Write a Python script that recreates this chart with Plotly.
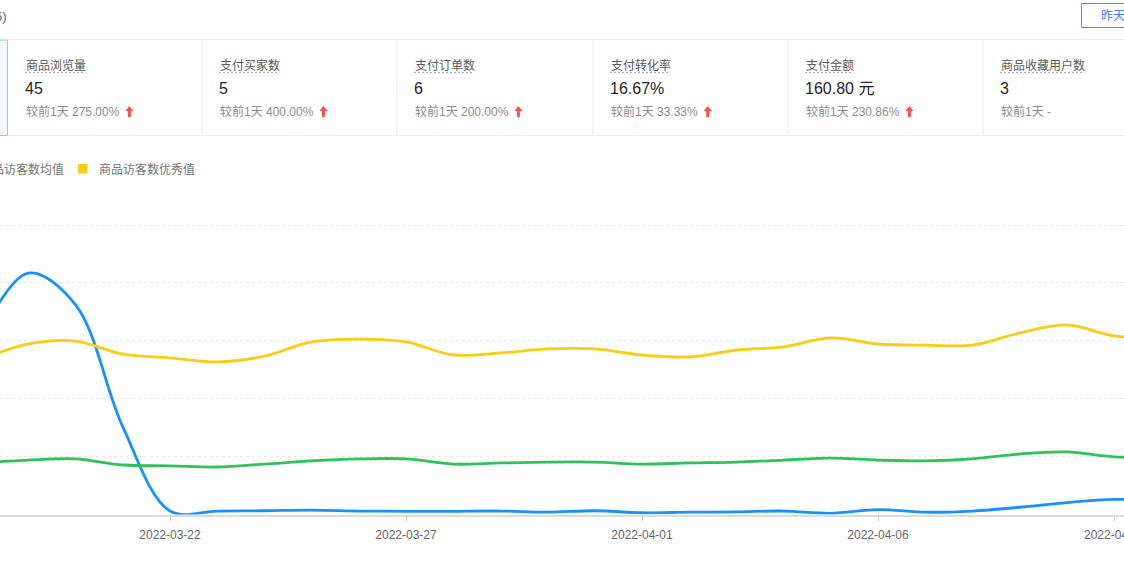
import pandas as pd
import plotly.graph_objects as go

W, H = 1124, 562

# ---------------- data ----------------
dates = pd.date_range("2022-03-18", "2022-04-12", freq="D")

visitors = [62, 83.4, 72.4, 30.3, 1.2, 1.2, 1.3, 1.5, 1.2, 1.1, 1.1, 1.2, 0.8, 1.3,
            0.6, 0.8, 0.9, 1.2, 0.4, 1.7, 0.8, 1.2, 2.5, 4.1, 5.2, 4.8]
visitors_avg = [17.8, 18.8, 19.2, 17.1, 16.8, 16.4, 17.4, 18.5, 19.2, 19.2, 17.4, 17.8, 18.1, 18.1,
                17.4, 17.8, 18.1, 18.8, 19.5, 18.8, 18.5, 19.2, 20.9, 21.6, 19.9, 19.9]
visitors_best = [53.4, 58.9, 59.9, 55.4, 54.1, 52.7, 54.7, 59.6, 60.6, 59.6, 55.1, 55.8, 57.2, 57.2,
                 55.1, 54.4, 56.8, 57.9, 61.0, 58.9, 58.5, 58.5, 62.7, 65.5, 61.7, 61.0]

series_names = ["商品访客数", "商品访客数均值", "商品访客数优秀值"]
series_colors = ["#1890ff", "#2fc25b", "#facc14"]

card_titles = ["商品浏览量", "支付买家数", "支付订单数", "支付转化率", "支付金额", "商品收藏用户数"]
card_values = ["45", "5", "6", "16.67%", "160.80 元", "3"]
card_changes = ["275.00%", "400.00%", "200.00%", "33.33%", "230.86%", "-"]
card_up = [True, True, True, True, True, False]

header_text = "5)"
button_text = "昨天"
compare_label = "较前1天"
last_tick = "2022-04-11"

FONT = "Liberation Sans, Arial, 'Noto Sans CJK SC', sans-serif"


def px(x):
    return x / W


def py(y):
    return 1 - y / H


def text_w(s, size=12):
    w = 0
    for ch in s:
        if ord(ch) > 0x2E80:
            w += size
        elif ch.isdigit():
            w += 0.556 * size
        elif ch == "%":
            w += 0.889 * size
        elif ch in ". ":
            w += 0.278 * size
        elif ch == "-":
            w += 0.333 * size
        else:
            w += 0.556 * size
    return w


fig = go.Figure()
for name, vals, col in zip(series_names, [visitors, visitors_avg, visitors_best], series_colors):
    fig.add_trace(go.Scatter(
        x=dates, y=vals, mode="lines", name=name,
        line=dict(color=col, width=2.8, shape="spline", smoothing=1.0),
        showlegend=False, hoverinfo="skip"))

shapes = []
annotations = []

# header
annotations.append(dict(x=px(9), y=py(16), xref="paper", yref="paper", text=header_text,
                        xanchor="right", yanchor="middle", showarrow=False,
                        font=dict(size=13, color="#666", family=FONT)))
shapes.append(dict(type="rect", xref="paper", yref="paper", x0=px(1081.5), x1=px(1140),
                   y0=py(3.5), y1=py(27.5), line=dict(color="#4d8ef7", width=1), fillcolor="white"))
annotations.append(dict(x=px(1099), y=py(16), xref="paper", yref="paper", text=button_text,
                        xanchor="left", yanchor="middle", showarrow=False,
                        font=dict(size=12, color="#3d7ff0", family=FONT)))

# cards row
card_x = [8, 202, 397, 593, 788, 983]
shapes.append(dict(type="rect", xref="paper", yref="paper", x0=px(-10), x1=px(7.5),
                   y0=py(40), y1=py(135.5), line=dict(color="#9cc3f5", width=1), fillcolor="#f2f7ff"))
shapes.append(dict(type="line", xref="paper", yref="paper", x0=px(8), x1=1,
                   y0=py(39.5), y1=py(39.5), line=dict(color="#ebebeb", width=1)))
shapes.append(dict(type="line", xref="paper", yref="paper", x0=px(8), x1=1,
                   y0=py(135.5), y1=py(135.5), line=dict(color="#ebebeb", width=1)))
for cx in card_x[1:]:
    shapes.append(dict(type="line", xref="paper", yref="paper", x0=px(cx), x1=px(cx),
                       y0=py(40), y1=py(135), line=dict(color="#ebebeb", width=1)))

for i, (t, v, c, up) in enumerate(zip(card_titles, card_values, card_changes, card_up)):
    x0 = card_x[i] + 17
    annotations.append(dict(x=px(x0 - 1.5), y=py(65), xref="paper", yref="paper", text=t,
                            xanchor="left", yanchor="middle", showarrow=False,
                            font=dict(size=12, color="#595959", family=FONT)))
    shapes.append(dict(type="line", xref="paper", yref="paper", x0=px(x0), x1=px(x0 + 12 * len(t)),
                       y0=py(72.5), y1=py(72.5), line=dict(color="#aaaaaa", width=1, dash="2px,2px")))
    annotations.append(dict(x=px(x0 - 2), y=py(88.5), xref="paper", yref="paper", text=v,
                            xanchor="left", yanchor="middle", showarrow=False,
                            font=dict(size=16, color="#262626", family=FONT)))
    ctext = compare_label + " " + c
    annotations.append(dict(x=px(x0 - 1.5), y=py(111.5), xref="paper", yref="paper", text=ctext,
                            xanchor="left", yanchor="middle", showarrow=False,
                            font=dict(size=12, color="#8c8c8c", family=FONT)))
    if up:
        ax = x0 + text_w(ctext) + 11
        path = (f"M {px(ax)},{py(106)} L {px(ax + 4)},{py(111)} L {px(ax + 1.5)},{py(111)} "
                f"L {px(ax + 1.5)},{py(117)} L {px(ax - 1.5)},{py(117)} L {px(ax - 1.5)},{py(111)} "
                f"L {px(ax - 4)},{py(111)} Z")
        shapes.append(dict(type="path", xref="paper", yref="paper", path=path,
                           fillcolor="#ff4d4f", line=dict(width=0)))

# legend (partially cropped)
annotations.append(dict(x=px(66), y=py(169), xref="paper", yref="paper", text=series_names[1],
                        xanchor="right", yanchor="middle", showarrow=False,
                        font=dict(size=12, color="#737373", family=FONT)))
shapes.append(dict(type="rect", xref="paper", yref="paper", x0=px(78), x1=px(87.5),
                   y0=py(164), y1=py(173.5), line=dict(width=0), fillcolor=series_colors[2]))
annotations.append(dict(x=px(96.5), y=py(169), xref="paper", yref="paper", text=series_names[2],
                        xanchor="left", yanchor="middle", showarrow=False,
                        font=dict(size=12, color="#737373", family=FONT)))

# axes geometry
ref_day = pd.Timestamp("2022-03-22")
ppd = 47.2
x_start = ref_day - pd.Timedelta(days=170 / ppd)
x_end = ref_day + pd.Timedelta(days=(W - 170) / ppd)
y_bottom, y_top = 514.5, 212.0
y_max = 100 * (y_bottom - y_top) / (y_bottom - 225.0)

# cropped last tick label (plotly hides labels overflowing the edge)
annotations.append(dict(x=pd.Timestamp(last_tick), y=py(534.5), xref="x", yref="paper", text=last_tick,
                        xanchor="center", yanchor="middle", showarrow=False,
                        font=dict(size=12, color="#666666", family=FONT)))

fig.update_layout(
    width=W, height=H,
    margin=dict(l=0, r=0, t=0, b=0),
    paper_bgcolor="white", plot_bgcolor="white",
    shapes=shapes, annotations=annotations,
    font=dict(family=FONT),
    xaxis=dict(
        type="date", range=[x_start, x_end], domain=[0, 1],
        tick0="2022-03-22", dtick=5 * 86400000, tickformat="%Y-%m-%d",
        showgrid=False, zeroline=False,
        showline=True, linecolor="#dcdcdc", linewidth=1.5,
        ticks="outside", ticklen=5, tickcolor="#cccccc", tickwidth=1,
        ticklabelstandoff=3,
        tickfont=dict(size=12, color="#666666", family=FONT),
    ),
    yaxis=dict(
        range=[0, y_max], domain=[1 - y_bottom / H, 1 - y_top / H],
        tickvals=[0, 20, 40, 60, 80, 100], showticklabels=False, zeroline=False,
        showgrid=True, gridcolor="#eaeaea", gridwidth=1, griddash="3px,3px",
        fixedrange=True,
    ),
)

fig.write_html("out.html")
